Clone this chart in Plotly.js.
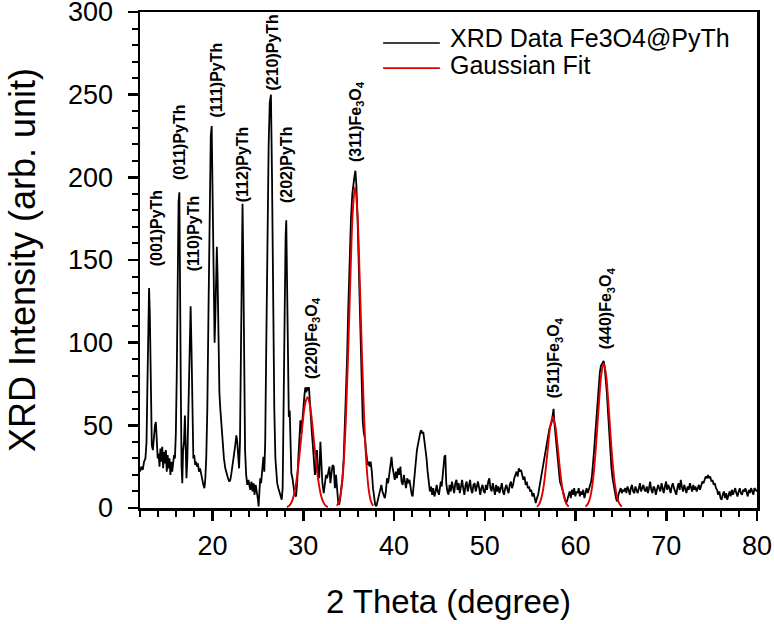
<!DOCTYPE html>
<html>
<head>
<meta charset="utf-8">
<script src="https://cdn.plot.ly/plotly-3.0.1.min.js"></script>
<style>html,body{margin:0;padding:0;background:#fff;}#chart{width:774px;height:624px;}</style>
</head>
<body>
<div id="chart"></div>
<script>
// XRD pattern (2θ in degrees, intensity in arb. units)
const xrdX = [
12.00,12.15,12.30,12.45,12.60,12.72,12.82,12.92,13.00,13.08,
13.18,13.30,13.42,13.55,13.65,13.75,13.85,13.95,14.05,14.15,
14.25,14.35,14.45,14.55,14.65,14.75,14.85,14.95,15.05,15.15,
15.25,15.35,15.45,15.55,15.65,15.75,15.85,15.95,16.05,16.15,
16.25,16.34,16.42,16.50,16.58,16.66,16.75,16.85,16.95,17.03,
17.12,17.22,17.35,17.48,17.58,17.68,17.78,17.88,17.98,18.08,
18.18,18.28,18.38,18.50,18.62,18.74,18.86,18.98,19.10,19.20,
19.30,19.42,19.55,19.68,19.80,19.90,19.98,20.06,20.14,20.22,
20.30,20.40,20.47,20.55,20.65,20.75,20.85,20.98,21.10,21.25,
21.40,21.55,21.70,21.85,21.95,22.05,22.20,22.35,22.50,22.62,
22.72,22.82,22.92,23.02,23.12,23.22,23.30,23.38,23.48,23.58,
23.70,23.82,23.95,24.05,24.15,24.28,24.40,24.52,24.62,24.75,
24.88,25.00,25.07,25.15,25.25,25.35,25.48,25.60,25.70,25.80,
25.92,26.05,26.18,26.30,26.43,26.55,26.67,26.80,26.92,27.02,
27.12,27.25,27.38,27.50,27.62,27.72,27.85,27.95,28.05,28.12,
28.20,28.30,28.40,28.50,28.58,28.68,28.80,28.92,29.05,29.20,
29.32,29.45,29.58,29.68,29.78,29.90,30.00,30.12,30.22,30.32,
30.42,30.52,30.62,30.72,30.82,30.95,31.05,31.15,31.28,31.40,
31.50,31.62,31.75,31.88,31.98,32.10,32.25,32.38,32.50,32.62,
32.75,32.88,32.98,33.10,33.22,33.35,33.48,33.60,33.72,33.85,
33.95,34.05,34.18,34.30,34.45,34.58,34.70,34.82,34.95,35.10,
35.25,35.40,35.52,35.62,35.74,35.85,35.98,36.12,36.28,36.42,
36.55,36.68,36.80,36.90,37.00,37.10,37.20,37.30,37.42,37.55,
37.68,37.80,37.92,38.05,38.18,38.30,38.45,38.60,38.72,38.85,
38.98,39.10,39.22,39.35,39.50,39.62,39.72,39.82,39.95,40.08,
40.20,40.32,40.45,40.58,40.70,40.82,40.95,41.08,41.20,41.32,
41.45,41.58,41.70,41.82,41.95,42.05,42.15,42.28,42.40,42.52,
42.65,42.78,42.90,43.00,43.10,43.22,43.32,43.45,43.58,43.70,
43.82,43.95,44.08,44.20,44.32,44.45,44.58,44.70,44.82,44.95,
45.05,45.15,45.25,45.35,45.45,45.55,45.65,45.75,45.88,46.00,
46.12,46.25,46.38,46.50,46.62,46.75,46.88,47.00,47.12,47.25,
47.38,47.50,47.62,47.75,47.88,48.00,48.12,48.25,48.38,48.50,
48.62,48.75,48.88,49.00,49.12,49.25,49.38,49.50,49.62,49.75,
49.88,50.00,50.12,50.25,50.38,50.50,50.62,50.75,50.88,51.00,
51.12,51.25,51.38,51.50,51.62,51.75,51.88,52.00,52.12,52.25,
52.38,52.50,52.62,52.75,52.88,53.00,53.12,53.25,53.38,53.50,
53.62,53.75,53.88,54.00,54.12,54.25,54.38,54.50,54.62,54.75,
54.88,55.00,55.12,55.25,55.38,55.50,55.62,55.75,55.88,56.00,
56.12,56.25,56.38,56.50,56.62,56.75,56.88,57.00,57.12,57.25,
57.38,57.50,57.58,57.66,57.78,57.90,58.02,58.15,58.28,58.40,
58.52,58.62,58.72,58.85,58.98,59.10,59.22,59.35,59.48,59.60,
59.72,59.85,59.98,60.10,60.22,60.35,60.48,60.60,60.72,60.85,
60.98,61.10,61.22,61.35,61.48,61.60,61.72,61.82,61.92,62.05,
62.18,62.30,62.42,62.55,62.68,62.80,62.92,63.02,63.10,63.20,
63.32,63.45,63.58,63.70,63.82,63.95,64.08,64.20,64.30,64.40,
64.50,64.62,64.72,64.85,64.98,65.10,65.22,65.35,65.48,65.60,
65.72,65.85,65.98,66.10,66.22,66.35,66.48,66.60,66.72,66.85,
66.98,67.10,67.22,67.35,67.48,67.60,67.72,67.85,67.98,68.10,
68.22,68.35,68.48,68.60,68.72,68.85,68.98,69.10,69.22,69.35,
69.48,69.60,69.72,69.85,69.98,70.10,70.22,70.35,70.48,70.60,
70.72,70.85,70.98,71.10,71.22,71.35,71.48,71.60,71.72,71.85,
71.98,72.10,72.22,72.35,72.48,72.60,72.72,72.85,72.98,73.10,
73.22,73.35,73.48,73.60,73.72,73.85,73.98,74.10,74.22,74.35,
74.48,74.60,74.72,74.85,74.98,75.10,75.22,75.35,75.48,75.60,
75.72,75.85,75.98,76.10,76.22,76.35,76.48,76.60,76.72,76.85,
76.98,77.10,77.22,77.35,77.48,77.60,77.72,77.85,77.98,78.10,
78.22,78.35,78.48,78.60,78.72,78.85,78.98,79.10,79.22,79.35,
79.48,79.60,79.72,79.85,80.00
];
const xrdY = [
22,25,23,28,30,40,75,120,133,118,
70,38,35,45,50,52,40,30,33,25,
36,28,37,24,34,27,35,22,32,24,
30,20,28,22,27,32,30,45,80,140,
185,191,150,70,25,15,35,40,56,40,
18,30,70,110,122,95,50,30,32,26,
28,25,27,22,24,20,16,14,12,18,
30,60,120,180,225,231,200,150,110,100,
115,150,158,140,95,70,60,48,40,30,
24,20,18,16,17,20,25,32,38,44,
40,30,24,40,90,150,184,150,80,35,
20,14,17,12,11,16,10,15,8,14,
10,5,1,10,18,15,25,31,22,40,
100,170,220,245,250,200,120,60,30,18,
15,12,10,8,5,12,60,120,165,174,
140,75,55,59,40,21,18,12,8,7,
15,30,45,53,45,55,62,68,73,70,
73,71,73,62,55,45,38,28,20,25,
35,22,18,40,25,15,9,14,20,18,
23,25,15,22,26,25,12,20,8,3,
2,5,12,17,30,50,70,90,120,150,
175,190,198,200,204,195,175,140,100,70,
52,45,42,35,30,26,28,25,28,22,
12,5,2,1,4,8,12,14,10,8,
6,10,18,15,22,28,31,25,20,17,
22,18,24,20,25,16,14,20,16,12,
18,15,17,12,8,7,12,20,28,35,
39,44,46,47,45,46,42,38,30,22,
15,10,13,8,12,7,10,14,10,8,
12,16,13,20,24,31,32,15,10,8,
14,10,16,12,9,15,17,11,15,9,
13,17,12,8,14,16,10,13,17,11,
9,14,15,10,13,16,12,8,12,14,
10,9,14,11,16,18,12,10,15,12,
8,14,10,13,9,12,15,10,8,12,
14,11,9,14,16,12,14,18,20,22,
19,24,22,23,20,17,19,14,16,12,
13,10,11,7,9,5,3,6,8,12,
16,20,24,28,32,36,40,44,48,50,
52,57,60,52,45,38,30,22,16,14,
12,10,8,5,3,5,8,10,6,11,
8,12,7,10,9,12,7,10,8,11,
6,9,12,9,11,14,16,20,25,35,
45,55,66,75,82,86,87,88,89,86,
80,70,58,45,34,25,18,15,12,8,
5,4,8,10,12,9,11,10,12,9,
13,11,8,12,14,10,9,13,11,9,
12,15,10,12,14,11,10,13,9,12,
16,11,9,13,12,8,11,14,12,10,
15,12,9,13,16,11,14,12,9,13,
15,12,10,8,12,15,11,17,13,10,
14,12,9,13,11,15,12,10,14,11,
13,10,12,14,11,13,16,15,17,19,
18,20,18,19,16,17,14,15,12,11,
8,10,6,5,8,10,6,9,5,8,
10,7,11,8,10,12,9,7,10,12,
9,8,11,10,12,9,7,11,9,12,
10,8,12,11,10
];

// Gaussian fit curves, null separates the four peaks
const fitX = [
28.20,28.45,28.70,28.95,29.20,29.45,29.70,29.95,30.20,30.45,30.70,30.95,31.20,31.45,31.70,31.95,32.20,32.45,32.70, null,
33.70,33.95,34.20,34.45,34.70,34.95,35.20,35.45,35.70,35.95,36.20,36.45,36.70,36.95,37.20,37.45,37.70, null,
55.75,56.00,56.25,56.50,56.75,57.00,57.25,57.50,57.75,58.00,58.25,58.50,58.75,59.00,59.25, null,
61.10,61.35,61.60,61.85,62.10,62.35,62.60,62.85,63.10,63.35,63.60,63.85,64.10,64.35,64.60,64.85,65.10
];
const fitY = [
0.5,1.4,3.5,7.6,14.9,25.5,38.9,52.7,63,67,63,52.7,38.9,25.5,14.9,7.6,3.5,1.4,0.5, null,
1.3,4.1,11.4,27.2,55.1,95.4,141.6,179.3,194,179.3,141.6,95.4,55.1,27.2,11.4,4.1,1.3, null,
0.8,2.4,6.3,13.7,25.2,38.9,50.4,55,50.4,38.9,25.2,13.7,6.3,2.4,0.8, null,
0.8,2.4,6.1,13.7,26.8,45.0,65.1,81.3,87.5,81.3,65.1,45.0,26.8,13.7,6.1,2.4,0.8
];

// Peak labels
const peakLabels = ["(001)PyTh","(011)PyTh","(110)PyTh","(111)PyTh","(112)PyTh","(210)PyTh","(202)PyTh",
  "(220)Fe<sub>3</sub>O<sub>4</sub>","(311)Fe<sub>3</sub>O<sub>4</sub>","(511)Fe<sub>3</sub>O<sub>4</sub>","(440)Fe<sub>3</sub>O<sub>4</sub>"];
const peakLabelX = [13.77,16.38,17.85,20.43,23.29,26.5,28.16,31.0,35.85,57.65,63.5];
const peakLabelY = [145,197,142,235,184,251,183,77,208,65,95];

const seriesNames = ["XRD Data Fe3O4@PyTh","Gaussian Fit"];
const xTicks = [20,30,40,50,60,70,80];
const yTicks = [0,50,100,150,200,250,300];

const FONT = "Liberation Sans, Arial, sans-serif";

const traces = [
  {x: xrdX, y: xrdY, type: "scatter", mode: "lines", name: seriesNames[0],
   line: {color: "#000000", width: 1.8}, showlegend: false},
  {x: fitX, y: fitY, type: "scatter", mode: "lines", name: seriesNames[1],
   line: {color: "#e00000", width: 1.9, shape: "spline"}, connectgaps: false, showlegend: false}
];

const annotations = peakLabels.map((t, i) => ({
  x: peakLabelX[i], y: peakLabelY[i], xref: "x", yref: "y",
  text: t, showarrow: false, textangle: -90,
  xanchor: "center", yanchor: "bottom",
  font: {family: FONT, size: 16, color: "#000", weight: "bold"}
}));

// Custom legend (text part)
annotations.push(
  {x: 0.499, y: 0.9475, xref: "paper", yref: "paper", text: seriesNames[0], showarrow: false,
   xanchor: "left", yanchor: "middle", font: {family: FONT, size: 25, color: "#000"}},
  {x: 0.499, y: 0.894, xref: "paper", yref: "paper", text: seriesNames[1], showarrow: false,
   xanchor: "left", yanchor: "middle", font: {family: FONT, size: 25, color: "#000"}}
);

const shapes = [
  {type: "line", xref: "paper", yref: "paper", x0: 0.394, x1: 0.486, y0: 0.9375, y1: 0.9375,
   line: {color: "#000", width: 1.6}},
  {type: "line", xref: "paper", yref: "paper", x0: 0.394, x1: 0.486, y0: 0.887, y1: 0.887,
   line: {color: "#e00000", width: 1.8}}
];

const axisCommon = {
  showline: true, linecolor: "#000", linewidth: 2.5, mirror: true,
  ticks: "outside", ticklen: 10, tickwidth: 2.5, tickcolor: "#000",
  showgrid: false, zeroline: false, ticklabeloverflow: "allow",
  tickfont: {family: FONT, size: 27, color: "#000"},
};

const layout = {
  width: 774, height: 624,
  margin: {l: 140, r: 17, t: 12, b: 116},
  paper_bgcolor: "#fff", plot_bgcolor: "#fff",
  showlegend: false,
  xaxis: Object.assign({}, axisCommon, {
    range: [12, 80], tickmode: "array", tickvals: xTicks, ticklabelstandoff: 2,
    minor: {dtick: 2, tick0: 0, ticks: "outside", ticklen: 6, tickwidth: 2, tickcolor: "#000"},
    title: {text: "2 Theta (degree)", font: {family: FONT, size: 33, color: "#000"}, standoff: 30}
  }),
  yaxis: Object.assign({}, axisCommon, {
    range: [0, 300], tickmode: "array", tickvals: yTicks, ticklabelstandoff: 9,
    minor: {dtick: 10, tick0: 0, ticks: "outside", ticklen: 6, tickwidth: 2, tickcolor: "#000"},
    title: {text: "XRD Intensity (arb. unit)", font: {family: FONT, size: 36, color: "#000"}, standoff: 22}
  }),
  annotations: annotations,
  shapes: shapes
};

if (xrdX.length !== xrdY.length) console.error("length mismatch", xrdX.length, xrdY.length);
Plotly.newPlot("chart", traces, layout, {displayModeBar: false, staticPlot: true});
</script>
</body>
</html>
